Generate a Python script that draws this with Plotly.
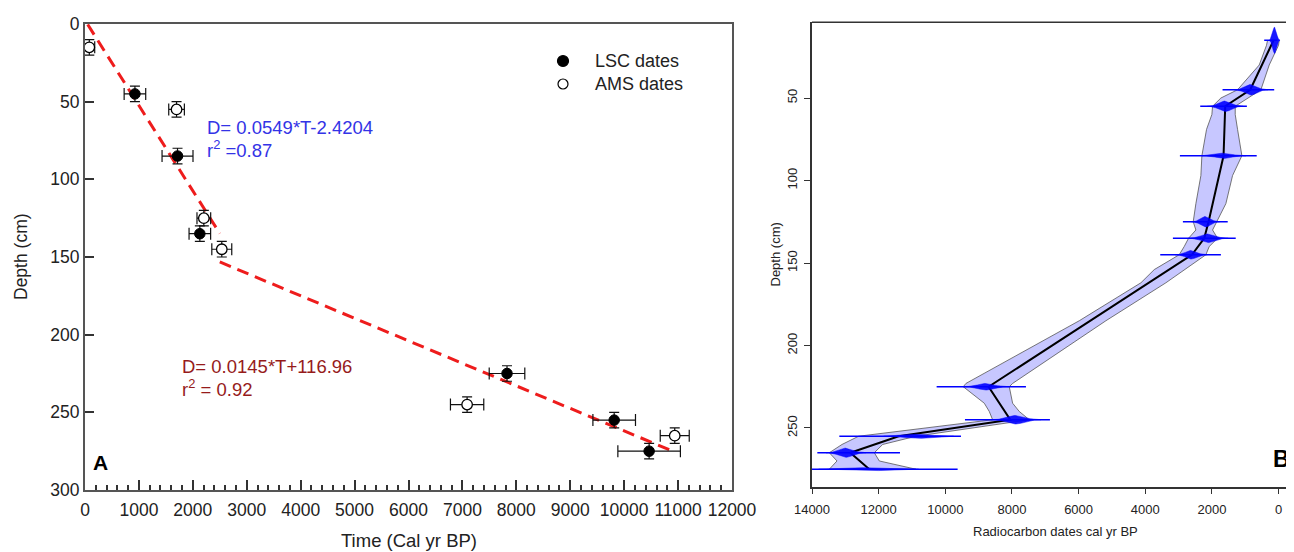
import numpy as np
import plotly.graph_objects as go

# page body adds an 8 px margin: size the figure to the visible area
OFF = 8
W, H = 1294 - OFF, 552 - OFF
FONT = "Liberation Sans, Arial, sans-serif"

# ---------------- Panel A data ----------------
lsc_time = [926, 1716, 2130, 7827, 9815, 10463]
lsc_depth = [45, 85, 135, 225, 255, 275]
lsc_time_err = [200, 287, 200, 330, 395, 580]
lsc_depth_err = [5, 5, 5, 5, 5, 5]

ams_time = [80, 1698, 2204, 2537, 7087, 10938]
ams_depth = [15, 55, 125, 145, 245, 265]
ams_time_err = [100, 145, 127, 185, 309, 269]
ams_depth_err = [5, 5, 5, 5, 5, 5]

fit1_slope, fit1_intercept, fit1_trange = 0.0549, -2.4204, [50, 2500]
fit2_slope, fit2_intercept, fit2_trange = 0.0145, 116.96, [2500, 10950]

legend_labels = ["LSC dates", "AMS dates"]

# ---------------- Panel B data ----------------
date_depth = [15, 45, 55, 85, 125, 135, 145, 225, 245, 255, 265, 275]
date_age = [120, 830, 1600, 1640, 2190, 2110, 2620, 8780, 7880, 10800, 12980, 12300]
date_sigma = [55, 170, 180, 220, 140, 200, 160, 230, 250, 350, 200, 500]
date_peak = [8, 3.2, 3.2, 1.6, 3.2, 2.6, 2.6, 2.0, 2.6, 1.3, 2.8, 1.0]
date_range_old = [430, 1680, 2350, 2960, 2870, 3170, 3550, 10260, 9410, 13180, 13840, 14000]
date_range_young = [30, 130, 950, 655, 1525, 1285, 1730, 7580, 6860, 9530, 11360, 9630]

model_depth = [15, 45, 55, 85, 125, 135, 145, 225, 245, 255, 265, 275]
model_age = [150, 850, 1600, 1650, 2100, 2230, 2600, 8700, 8050, 11400, 12850, 12280]

band_depth = [15, 18, 30, 45, 50, 55, 60, 69, 85, 97, 114, 125, 130, 135, 140, 145,
              154, 162, 185, 223, 225, 230, 235, 240, 245, 255, 260, 265, 270, 275]
band_old = [330, 360, 580, 1230, 1730, 1980, 2000, 2160, 2300, 2330, 2480, 2560, 2480, 2700,
            2830, 2980, 3730, 4130, 5980, 9380, 9460, 9130, 8830, 8680, 8580, 12600, 13100,
            13480, 13250, 13480]
band_young = [-20, 0, 280, 530, 900, 1300, 1300, 1230, 1100, 1380, 1580, 1860, 1980, 1830,
              2080, 2180, 2830, 3380, 5180, 7980, 8080, 8040, 7980, 7780, 7480, 10880, 11880,
              12130, 11980, 10880]


def px(x):
    return (x - OFF) / W


def py(y):
    return 1 - (y - OFF) / H


fig = go.Figure()

# ---- Panel A traces ----
for slope, icpt, tr in [(fit1_slope, fit1_intercept, fit1_trange),
                        (fit2_slope, fit2_intercept, fit2_trange)]:
    t = np.array(tr, dtype=float)
    fig.add_trace(go.Scatter(
        x=t, y=slope * t + icpt, mode="lines", xaxis="x", yaxis="y",
        line=dict(color="#ee1c1c", width=3, dash="12px,7px"), showlegend=False,
        hoverinfo="skip"))

err_style = dict(type="data", color="#111", thickness=1.2)
fig.add_trace(go.Scatter(
    x=lsc_time, y=lsc_depth, mode="markers", name=legend_labels[0], xaxis="x", yaxis="y",
    marker=dict(size=10.5, color="black", line=dict(color="black", width=1)),
    error_x=dict(array=lsc_time_err, width=6, **err_style),
    error_y=dict(array=lsc_depth_err, width=5, **err_style), showlegend=False))
fig.add_trace(go.Scatter(
    x=ams_time, y=ams_depth, mode="markers", name=legend_labels[1], xaxis="x", yaxis="y",
    marker=dict(size=10.5, color="white", line=dict(color="black", width=1.3)),
    error_x=dict(array=ams_time_err, width=6, **err_style),
    error_y=dict(array=ams_depth_err, width=5, **err_style), showlegend=False))

# ---- Panel B traces ----
fig.add_trace(go.Scatter(
    x=list(band_old) + list(band_young[::-1]),
    y=list(band_depth) + list(band_depth[::-1]),
    mode="lines", fill="toself", fillcolor="rgba(0,0,255,0.22)",
    line=dict(color="#555", width=0.8), xaxis="x2", yaxis="y2",
    showlegend=False, hoverinfo="skip"))
fig.add_trace(go.Scatter(
    x=model_age, y=model_depth, mode="lines", line=dict(color="black", width=2),
    xaxis="x2", yaxis="y2", showlegend=False))

for d, c, s, pk in zip(date_depth, date_age, date_sigma, date_peak):
    z = np.linspace(-3, 3, 61)
    a = c + s * z
    h = pk * np.exp(-0.5 * z ** 2)
    fig.add_trace(go.Scatter(
        x=np.concatenate([a, a[::-1]]), y=np.concatenate([d - h, (d + h)[::-1]]),
        mode="lines", fill="toself", fillcolor="rgba(0,0,255,0.9)",
        line=dict(color="rgba(0,0,255,0.9)", width=0.5),
        xaxis="x2", yaxis="y2", showlegend=False, hoverinfo="skip"))

rx, ry = [], []
for d, o, yv in zip(date_depth, date_range_old, date_range_young):
    rx += [o, yv, None]
    ry += [d, d, None]
fig.add_trace(go.Scatter(x=rx, y=ry, mode="lines", line=dict(color="#0000ff", width=1.5),
                         xaxis="x2", yaxis="y2", showlegend=False, hoverinfo="skip"))

# ---- Layout ----
tickA = dict(family=FONT, size=17.5, color="#222")
tickB = dict(family=FONT, size=13, color="#222")

fig.update_layout(
    width=W, height=H, margin=dict(l=0, r=0, t=0, b=0, pad=0, autoexpand=False),
    paper_bgcolor="white", plot_bgcolor="white",
    font=dict(family=FONT, color="#222"),
    showlegend=False,
    xaxis=dict(domain=[px(85), px(732)], anchor="y", range=[0, 12000], dtick=1000,
               tickformat="d",
               showline=True, linecolor="#555", linewidth=2, mirror=True,
               ticks="inside", ticklen=10, tickwidth=1.5, tickcolor="#333",
               minor=dict(dtick=200, ticks="inside", ticklen=5, tickwidth=1.5,
                          tickcolor="#333", showgrid=False),
               showgrid=False, zeroline=False, tickfont=tickA, ticklabelstandoff=3),
    yaxis=dict(domain=[py(490), py(24)], anchor="x", range=[300, 0], dtick=50,
               showline=True, linecolor="#555", linewidth=2, mirror=True,
               ticks="inside", ticklen=9, tickwidth=1.5, tickcolor="#333",
               showgrid=False, zeroline=False, tickfont=tickA, ticklabelstandoff=0),
    xaxis2=dict(domain=[px(812), 1], anchor="y2", range=[14000, -464],
                tickvals=list(range(0, 14001, 2000)), tickformat="d",
                showline=True, linecolor="#333", linewidth=1.5,
                ticks="outside", ticklen=6, tickwidth=1.2, tickcolor="#333",
                showgrid=False, zeroline=False, tickfont=tickB, ticklabelstandoff=4),
    yaxis2=dict(domain=[py(486.7), py(22.3)], anchor="x2", range=[285.6, 4.1],
                tickvals=[50, 100, 150, 200, 250], tickangle=-90,
                showline=True, linecolor="#333", linewidth=1.5,
                ticks="outside", ticklen=6, tickwidth=1.2, tickcolor="#333",
                showgrid=False, zeroline=False, tickfont=tickB, ticklabelstandoff=2),
)

# top frame line of panel B (right side runs off the page)
fig.add_shape(type="line", xref="paper", yref="paper", x0=px(812), x1=1,
              y0=py(22.3), y1=py(22.3), line=dict(color="#333", width=1.5))

# legend of panel A: symbols + labels
leg_items = [(61, "black", 5.5), (84, "white", 5)]
for (ly, fill, r), label in zip(leg_items, legend_labels):
    fig.add_shape(type="circle", xref="paper", yref="paper",
                  x0=px(563 - r), x1=px(563 + r), y0=py(ly + r), y1=py(ly - r),
                  fillcolor=fill, line=dict(color="black", width=1.2))
    fig.add_annotation(text=label, x=px(593), y=py(ly), xref="paper", yref="paper",
                       showarrow=False, xanchor="left", yanchor="middle",
                       font=dict(family=FONT, size=18, color="#222"))

ann = [
    dict(text="Depth (cm)", x=px(21), y=py(257), textangle=-90, size=17.5, color="#222"),
    dict(text="Time (Cal yr BP)", x=px(409), y=py(540), size=18.5, color="#222"),
    dict(text="D= 0.0549*T-2.4204", x=px(205), y=py(127), size=18.5, color="#3333e6", xanchor="left"),
    dict(text="r<sup>2</sup> =0.87", x=px(205), y=py(149), size=18.5, color="#3333e6", xanchor="left"),
    dict(text="D= 0.0145*T+116.96", x=px(180), y=py(366), size=18.5, color="#961b1b", xanchor="left"),
    dict(text="r<sup>2</sup> = 0.92", x=px(180), y=py(388), size=18.5, color="#961b1b", xanchor="left"),
    dict(text="<b>A</b>", x=px(100.5), y=py(462), size=21, color="black"),
    dict(text="<b>B</b>", x=px(1281), y=py(459), size=23, color="black"),
    dict(text="Depth (cm)", x=px(775), y=py(254.5), textangle=-90, size=13, color="#222"),
    dict(text="Radiocarbon dates cal yr BP", x=px(1055), y=py(531), size=13, color="#222"),
]
for a in ann:
    fig.add_annotation(text=a["text"], x=a["x"], y=a["y"], xref="paper", yref="paper",
                       showarrow=False, textangle=a.get("textangle", 0),
                       xanchor=a.get("xanchor", "center"), yanchor="middle",
                       font=dict(family=FONT, size=a["size"], color=a["color"]))

fig.write_html("out.html")
